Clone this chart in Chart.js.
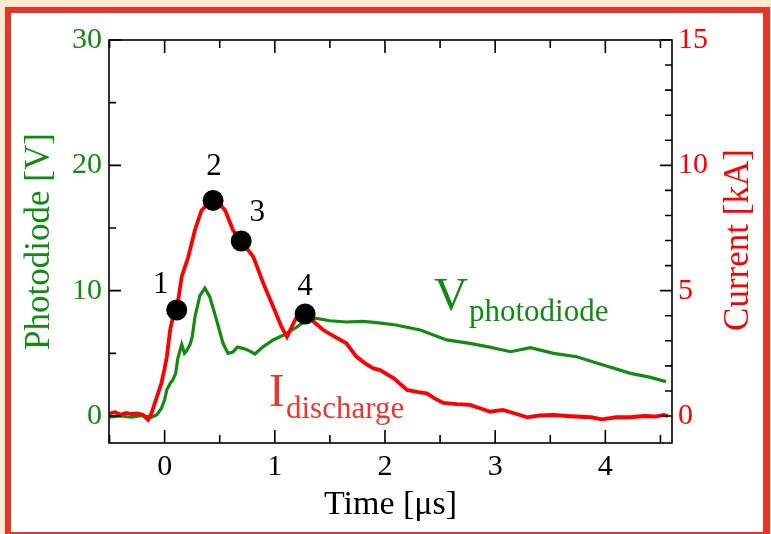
<!DOCTYPE html>
<html><head><meta charset="utf-8">
<script src="https://cdn.jsdelivr.net/npm/chart.js@4"></script>
<style>html,body{margin:0;padding:0;background:#FBEBD3;} canvas{display:block;}</style>
</head><body>
<canvas id="c" width="771" height="534"></canvas>
<script>
// ---- data ----
const timeV = [-0.5,-0.4,-0.3,-0.2,-0.12,-0.07,-0.03,0,0.02,0.05,0.075,0.1,0.12,0.155,0.18,0.2,0.23,0.25,0.275,0.32,0.365,0.41,0.47,0.53,0.575,0.62,0.66,0.71,0.77,0.82,0.89,0.985,1.09,1.2,1.28,1.365,1.5,1.65,1.8,1.925,2.1,2.32,2.56,2.77,2.95,3.14,3.32,3.53,3.74,3.98,4.23,4.4,4.55];
const photodiodeV = [-0.1,0.0,-0.1,0.05,-0.1,0.1,0.6,1.3,2.1,2.6,2.9,3.4,4.6,5.7,5.0,5.2,5.7,6.3,7.9,9.6,10.2,9.5,7.7,5.8,5.0,5.1,5.5,5.4,5.2,4.95,5.5,6.07,6.5,7.1,7.6,7.8,7.6,7.5,7.55,7.45,7.26,6.86,6.07,5.8,5.5,5.13,5.45,5.0,4.73,4.07,3.4,3.1,2.74];
const timeI = [-0.5,-0.45,-0.4,-0.35,-0.3,-0.25,-0.2,-0.15,-0.12,-0.09,-0.06,-0.03,0,0.02,0.05,0.075,0.11,0.155,0.215,0.275,0.335,0.4,0.44,0.5,0.55,0.62,0.695,0.805,0.895,0.985,1.06,1.11,1.17,1.2,1.275,1.33,1.44,1.55,1.65,1.74,1.82,1.895,1.955,2.08,2.2,2.3,2.38,2.45,2.53,2.65,2.77,2.87,2.955,3.07,3.18,3.29,3.4,3.53,3.65,3.77,3.87,3.97,4.1,4.23,4.35,4.45,4.53,4.57];
const currentKA = [0.1,0.15,0.05,0.12,0.08,0.1,0.05,-0.15,0.1,0.5,0.9,1.3,1.9,2.37,3.43,3.95,4.23,5.56,6.35,7.42,8.2,8.5,8.6,8.45,8.2,7.42,6.98,6.35,5.3,4.36,3.56,3.16,3.7,3.96,4.09,3.85,3.43,3.15,2.9,2.37,2.1,1.9,1.83,1.5,1.04,0.95,0.9,0.7,0.52,0.47,0.44,0.3,0.17,0.24,0.1,-0.05,0.02,0.04,0.0,-0.03,-0.05,-0.13,-0.05,-0.05,0.0,-0.02,0.04,0.0];
const markerTimes = [0.11,0.44,0.695,1.275];
const markerCurrent = [4.23,8.6,6.98,4.07];
const markerLabels = ['1','2','3','4'];
const xTicks = [0,1,2,3,4];
const xMinorTicks = [-0.5,0.5,1.5,2.5,3.5,4.5];
const yTicks = [0,10,20,30];
const yMinorTicks = [5,15,25];
const y2Ticks = [0,5,10,15];
const y2MinorTicks = [1,2,3,4,6,7,8,9,11,12,13,14];
const xTitle = 'Time [\u03bcs]';
const yTitle = 'Photodiode [V]';
const y2Title = 'Current [kA]';

const GREEN = '#138a13';
const RED = '#ff0000';
const SERIF = '"Liberation Serif", "DejaVu Serif", serif';

const frame = {
  id: 'frame',
  beforeDraw(chart) {
    const c = chart.ctx;
    c.save();
    c.fillStyle = '#FBEBD3'; c.fillRect(0,0,771,534);
    c.fillStyle = '#E8352A'; c.fillRect(5,7,765,527);
    c.fillStyle = '#ffffff'; c.fillRect(11,13,752,519);
    c.restore();
  },
  afterDraw(chart) {
    const c = chart.ctx, a = chart.chartArea;
    const sx = chart.scales.x, sy = chart.scales.y, sy2 = chart.scales.y2;
    c.save();
    c.strokeStyle = '#000'; c.lineWidth = 1.6;
    c.strokeRect(a.left, a.top, a.right - a.left, a.bottom - a.top);
    c.beginPath();
    const xt = (v, len) => { const p = sx.getPixelForValue(v);
      c.moveTo(p, a.bottom); c.lineTo(p, a.bottom - len);
      c.moveTo(p, a.top); c.lineTo(p, a.top + len); };
    xTicks.forEach(v => xt(v, 13)); xMinorTicks.forEach(v => xt(v, 8));
    const yt = (v, len) => { const p = sy.getPixelForValue(v);
      c.moveTo(a.left, p); c.lineTo(a.left + len, p); };
    yTicks.forEach(v => yt(v, 12)); yMinorTicks.forEach(v => yt(v, 7));
    const y2t = (v, len) => { const p = sy2.getPixelForValue(v);
      c.moveTo(a.right, p); c.lineTo(a.right - len, p); };
    y2Ticks.forEach(v => y2t(v, 12)); y2MinorTicks.forEach(v => y2t(v, 7));
    c.stroke();

    // marker labels
    const offs = [[-16,-25],[1,-34],[16,-28],[0,-27]];
    const meta = chart.getDatasetMeta(0);
    c.fillStyle = '#000'; c.font = '31px ' + SERIF;
    c.textAlign = 'center'; c.textBaseline = 'middle';
    meta.data.forEach((pt, i) => c.fillText(markerLabels[i], pt.x + offs[i][0], pt.y + offs[i][1]));

    // right axis title (reads bottom to top)
    c.save();
    c.translate(739, 240); c.rotate(-Math.PI/2);
    c.fillStyle = RED; c.font = '35px ' + SERIF;
    c.textAlign = 'center'; c.textBaseline = 'middle';
    c.fillText(y2Title, 0, 0);
    c.restore();

    // series annotations
    c.textAlign = 'left'; c.textBaseline = 'alphabetic';
    c.fillStyle = GREEN;
    c.font = '47px ' + SERIF; c.fillText('V', 434, 310);
    c.font = '31px ' + SERIF; c.fillText('photodiode', 469, 321);
    c.fillStyle = '#E8382E';
    c.font = '47px ' + SERIF; c.fillText('I', 269, 406);
    c.font = '31px ' + SERIF; c.fillText('discharge', 286, 418);
    c.restore();
  }
};

const tickFont = { family: SERIF, size: 30 };
new Chart(document.getElementById('c'), {
  type: 'line',
  data: {
    datasets: [
      { label: 'markers', type: 'scatter', yAxisID: 'y2', order: 0,
        data: markerTimes.map((t, i) => ({ x: t, y: markerCurrent[i] })),
        pointRadius: 10.5, pointBackgroundColor: '#000', pointBorderWidth: 0, showLine: false },
      { label: 'I discharge', yAxisID: 'y2', order: 1,
        data: timeI.map((t, i) => ({ x: t, y: currentKA[i] })),
        borderColor: RED, borderWidth: 3.8, pointRadius: 0, tension: 0, fill: false },
      { label: 'V photodiode', yAxisID: 'y', order: 2,
        data: timeV.map((t, i) => ({ x: t, y: photodiodeV[i] })),
        borderColor: GREEN, borderWidth: 3.2, pointRadius: 0, tension: 0, fill: false }
    ]
  },
  options: {
    responsive: false, animation: false, devicePixelRatio: 1,
    layout: { padding: 0 },
    plugins: {
      legend: { display: false }, tooltip: { enabled: false },
      title: { display: true, text: '', font: { size: 10, lineHeight: 1 }, padding: { top: 15, bottom: 15 } }
    },
    scales: {
      x: { type: 'linear', position: 'bottom', min: -0.505, max: 4.605,
        grid: { display: false, drawTicks: false }, border: { display: false },
        afterBuildTicks: s => { s.ticks = xTicks.map(v => ({ value: v })); },
        afterFit: s => { s.height = 91; },
        ticks: { font: tickFont, color: '#000', padding: 6, maxRotation: 0 },
        title: { display: true, text: xTitle, color: '#000', font: { family: SERIF, size: 34 }, padding: { top: 0, bottom: 9 } } },
      y: { type: 'linear', position: 'left', min: -2.154, max: 30,
        grid: { display: false, drawTicks: false }, border: { display: false },
        afterBuildTicks: s => { s.ticks = yTicks.map(v => ({ value: v })); },
        afterFit: s => { s.width = 109; },
        ticks: { font: tickFont, color: GREEN, padding: 7 },
        title: { display: true, text: yTitle, color: GREEN, font: { family: SERIF, size: 35 }, padding: { top: 19, bottom: 0 } } },
      y2: { type: 'linear', position: 'right', min: -1.077, max: 15,
        grid: { display: false, drawTicks: false }, border: { display: false },
        afterBuildTicks: s => { s.ticks = y2Ticks.map(v => ({ value: v })); },
        afterFit: s => { s.width = 99; },
        ticks: { font: tickFont, color: RED, padding: 6 } }
    }
  },
  plugins: [frame]
});
</script>
</body></html>
